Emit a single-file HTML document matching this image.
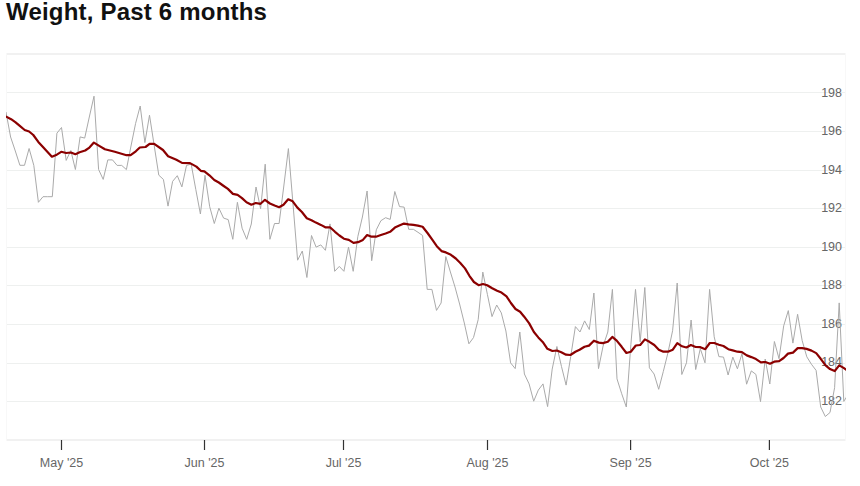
<!DOCTYPE html>
<html><head><meta charset="utf-8"><style>
html,body{margin:0;padding:0;background:#fff;width:860px;height:486px;overflow:hidden}
svg{position:absolute;left:0;top:0;font-family:"Liberation Sans",sans-serif}
</style></head><body>
<svg width="860" height="486" viewBox="0 0 860 486">
<text x="6" y="20" font-size="24" font-weight="bold" fill="#111" letter-spacing="0.2">Weight, Past 6 months</text>
<g stroke="#eef0ef" stroke-width="1.1"><line x1="6" x2="846" y1="92.45" y2="92.45"/><line x1="6" x2="846" y1="131.45" y2="131.45"/><line x1="6" x2="846" y1="170.45" y2="170.45"/><line x1="6" x2="846" y1="208.45" y2="208.45"/><line x1="6" x2="846" y1="247.45" y2="247.45"/><line x1="6" x2="846" y1="285.45" y2="285.45"/><line x1="6" x2="846" y1="324.45" y2="324.45"/><line x1="6" x2="846" y1="363.45" y2="363.45"/><line x1="6" x2="846" y1="401.45" y2="401.45"/></g>
<g stroke="#f1f1f1" stroke-width="2"><line x1="6" x2="846" y1="54" y2="54"/><line x1="6" x2="846" y1="440" y2="440"/></g>
<g stroke="#f8f8f8" stroke-width="1"><line x1="6.5" x2="6.5" y1="53" y2="441"/><line x1="845.5" x2="845.5" y1="53" y2="441"/></g>
<g font-size="12.5" fill="#666" text-anchor="end"><text x="842" y="404.6">182</text><text x="842" y="366.1">184</text><text x="842" y="327.6">186</text><text x="842" y="289.1">188</text><text x="842" y="250.7">190</text><text x="842" y="212.2">192</text><text x="842" y="173.7">194</text><text x="842" y="135.2">196</text><text x="842" y="96.7">198</text></g>
<defs><clipPath id="c"><rect x="6" y="54" width="840" height="386"/></clipPath></defs>
<g clip-path="url(#c)">
<polyline fill="none" stroke="#aaa" stroke-width="1" stroke-miterlimit="10" points="6.0,112.0 10.6,137.0 15.3,151.0 19.9,165.3 24.5,165.3 29.1,148.5 33.8,165.3 38.4,202.3 43.0,196.7 47.7,196.7 52.3,196.7 56.9,133.2 61.5,127.5 66.2,160.4 70.8,150.5 75.4,169.5 80.1,136.9 84.7,138.1 89.3,117.0 94.0,96.2 98.6,169.5 103.2,179.4 107.8,159.9 112.5,159.9 117.1,165.4 121.7,165.4 126.4,169.6 131.0,146.0 135.6,123.4 140.2,106.0 144.9,142.6 149.5,115.2 154.1,145.0 158.8,175.2 163.4,179.4 168.0,206.1 172.6,181.4 177.3,175.7 181.9,186.9 186.5,165.4 191.2,164.1 195.8,189.5 200.4,214.0 205.0,175.3 209.7,206.7 214.3,223.5 218.9,208.2 223.6,218.1 228.2,219.6 232.8,239.3 237.4,202.3 242.1,228.2 246.7,239.3 251.3,224.0 256.0,187.0 260.6,208.7 265.2,164.2 269.9,239.3 274.5,223.5 279.1,223.5 283.7,187.0 288.4,148.6 293.0,204.0 297.6,260.2 302.3,251.0 306.9,277.5 311.5,235.5 316.1,247.1 320.8,244.9 325.4,250.3 330.0,223.9 334.7,271.3 339.3,266.4 343.9,271.3 348.5,247.1 353.2,271.3 357.8,236.7 362.4,217.0 367.1,191.0 371.7,260.7 376.3,229.8 380.9,220.7 385.6,217.7 390.2,219.4 394.8,191.5 399.5,206.6 404.1,207.1 408.7,229.3 413.4,229.3 418.0,232.3 422.6,235.5 427.2,289.4 431.9,289.4 436.5,310.4 441.1,303.0 445.8,256.6 450.4,272.0 455.0,287.0 459.6,304.0 464.3,323.0 468.9,343.8 473.5,337.6 478.2,319.6 482.8,272.1 487.4,294.4 492.0,316.6 496.7,305.0 501.3,312.9 505.9,331.0 510.6,362.9 515.2,368.6 519.8,332.0 524.4,374.0 529.1,383.9 533.7,401.2 538.3,390.1 543.0,383.9 547.6,406.6 552.2,369.1 556.9,346.5 561.5,366.6 566.1,385.1 570.7,356.7 575.4,326.6 580.0,332.0 584.6,320.9 589.3,329.5 593.9,293.0 598.5,368.6 603.1,346.0 607.8,332.0 612.4,289.4 617.0,378.9 621.7,393.7 626.3,407.0 630.9,344.3 635.5,289.4 640.2,341.8 644.8,287.5 649.4,367.8 654.1,374.0 658.7,389.3 663.3,371.5 667.9,353.0 672.6,330.7 677.2,283.0 681.8,374.5 686.5,362.8 691.1,320.0 695.7,369.5 700.3,348.6 705.0,362.8 709.6,289.4 714.2,336.8 718.9,356.6 723.5,357.1 728.1,375.0 732.8,357.1 737.4,368.8 742.0,353.6 746.6,384.2 751.3,370.9 755.9,374.4 760.5,401.6 765.2,359.0 769.8,384.0 774.4,341.5 779.0,358.7 783.7,325.8 788.3,310.6 792.9,343.1 797.6,314.3 802.2,340.7 806.8,356.8 811.4,364.2 816.1,370.4 820.7,407.0 825.3,416.5 830.0,412.5 834.6,387.7 839.2,302.9 843.8,401.3 848.5,394.0"/>
<polyline fill="none" stroke="#8b0000" stroke-width="2.2" stroke-linejoin="round" stroke-linecap="round" points="6.2,116.7 11.1,119.2 15.3,122.1 19.8,125.8 24.7,130.0 29.1,131.5 33.3,135.0 38.3,141.9 43.2,147.3 51.9,156.7 56.8,154.7 61.2,151.8 66.2,153.0 70.9,152.5 75.4,154.2 79.6,152.3 85.2,150.5 89.4,147.6 93.9,142.6 98.8,145.6 104.9,149.3 114.8,151.8 126.5,155.2 130.6,155.2 135.8,151.3 139.8,147.5 145.5,147.0 149.6,143.9 154.2,143.9 163.0,150.0 168.1,156.2 176.4,159.8 182.0,162.9 190.0,163.1 196.4,166.6 200.8,170.8 204.4,171.4 209.4,175.3 214.3,180.0 218.8,182.5 223.7,186.0 227.9,188.9 232.9,193.9 237.6,194.9 242.0,198.1 246.5,202.3 251.4,204.7 255.8,203.0 260.5,203.8 265.0,199.8 269.9,203.5 274.6,205.5 279.1,207.2 283.5,204.7 288.2,199.3 292.7,201.3 297.4,207.6 301.9,212.0 306.8,218.2 311.5,220.2 315.9,222.6 320.9,224.9 325.3,227.3 330.0,227.3 335.0,231.8 339.4,235.5 343.9,238.7 348.8,239.9 353.5,242.9 358.0,242.2 362.9,239.9 367.1,235.0 371.5,236.7 376.0,236.7 380.9,235.0 385.6,233.5 390.1,231.8 394.9,227.6 399.3,225.6 404.0,223.6 408.5,224.4 413.4,224.9 417.9,225.6 422.6,226.8 427.5,233.0 431.9,239.2 436.8,246.2 441.5,251.1 445.9,252.4 450.9,254.8 455.8,258.5 460.3,263.0 465.0,268.4 469.4,275.8 473.9,282.0 478.6,285.2 483.0,284.0 487.2,285.2 492.2,288.2 497.1,290.7 501.5,292.6 506.5,296.3 510.9,303.0 515.5,309.0 520.1,311.7 524.2,316.7 529.2,323.4 533.9,332.0 538.3,337.4 542.7,341.9 547.4,348.8 552.4,351.0 556.8,350.5 561.3,352.3 566.0,354.7 570.4,355.0 575.4,351.8 579.6,349.8 584.5,346.8 589.0,345.6 593.9,340.7 598.8,342.6 602.9,343.1 607.8,341.8 612.3,336.9 616.7,340.6 621.7,346.8 626.4,353.0 630.8,351.7 635.8,345.5 640.2,345.0 644.9,339.4 649.4,341.8 654.3,345.0 658.8,349.7 663.4,351.7 667.9,351.7 672.8,349.7 677.3,343.1 682.0,346.3 686.4,347.5 690.9,345.0 695.6,347.0 700.4,347.2 705.3,349.2 709.8,343.0 714.2,343.0 718.9,344.7 723.4,346.0 728.3,349.2 732.7,350.4 737.4,351.7 741.9,352.2 746.8,355.4 751.3,357.1 756.0,359.1 760.9,362.3 765.4,362.0 770.0,363.7 774.2,361.7 779.1,361.2 783.6,358.0 788.0,353.6 793.0,352.6 797.7,348.1 802.1,348.1 806.6,348.9 811.5,350.6 816.2,353.1 820.7,358.8 825.6,365.4 830.0,369.1 834.7,371.1 839.2,365.4 843.6,367.9 846.0,369.5"/>
</g>
<g stroke="#333" stroke-width="1.2"><line x1="61.5" x2="61.5" y1="440" y2="450"/><line x1="204.5" x2="204.5" y1="440" y2="450"/><line x1="343.5" x2="343.5" y1="440" y2="450"/><line x1="487.5" x2="487.5" y1="440" y2="450"/><line x1="630.6" x2="630.6" y1="440" y2="450"/><line x1="769.4" x2="769.4" y1="440" y2="450"/></g>
<g font-size="12.5" fill="#666" text-anchor="middle"><text x="61.5" y="467">May '25</text><text x="204.5" y="467">Jun '25</text><text x="343.5" y="467">Jul '25</text><text x="487.5" y="467">Aug '25</text><text x="630.6" y="467">Sep '25</text><text x="769.4" y="467">Oct '25</text></g>
</svg>
</body></html>
